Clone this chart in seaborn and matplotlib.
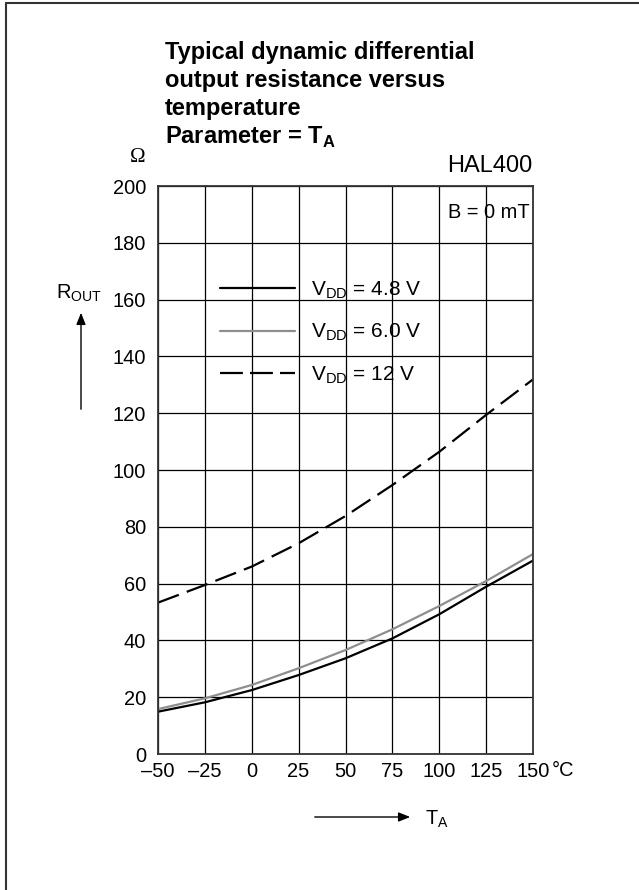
import numpy as np
import pandas as pd
import matplotlib
matplotlib.use("Agg")
import matplotlib.pyplot as plt
import seaborn as sns
from matplotlib.lines import Line2D

# ---- data ----
temps = [-50, -25, 0, 25, 50, 75, 100, 125, 150]
r_48 = [14.9, 18.2, 22.5, 27.8, 33.7, 40.7, 49.2, 58.9, 68.1]
r_60 = [15.8, 19.6, 24.3, 30.2, 36.6, 43.9, 52.1, 60.9, 70.4]
r_12 = [53.3, 59.5, 66.0, 74.2, 83.8, 94.7, 106.4, 119.4, 131.9]
series_labels = [r"V$_{\mathrm{DD}}$ = 4.8 V", r"V$_{\mathrm{DD}}$ = 6.0 V", r"V$_{\mathrm{DD}}$ = 12 V"]
x_ticks = [-50, -25, 0, 25, 50, 75, 100, 125, 150]
x_ticklabels = ["\u201350", "\u201325", "0", "25", "50", "75", "100", "125", "150"]
y_ticks = [0, 20, 40, 60, 80, 100, 120, 140, 160, 180, 200]

df = pd.DataFrame({
    "T": temps * 3,
    "R": r_48 + r_60 + r_12,
    "series": [series_labels[0]] * 9 + [series_labels[1]] * 9 + [series_labels[2]] * 9,
})

sns.set_theme(style="white")
plt.rcParams["font.family"] = ["Liberation Sans", "DejaVu Sans"]
plt.rcParams["mathtext.fontset"] = "custom"
plt.rcParams["mathtext.rm"] = "Liberation Sans"
plt.rcParams["mathtext.bf"] = "Liberation Sans:bold"
plt.rcParams["text.color"] = "black"
plt.rcParams["xtick.color"] = "black"
plt.rcParams["ytick.color"] = "black"

W, H = 639, 890
FS = 14.4
fig = plt.figure(figsize=(W / 100, H / 100), dpi=100)
ax = fig.add_axes([158 / W, (H - 754) / H, 375 / W, 568 / H])

colors = {series_labels[0]: "black", series_labels[1]: "#8e8e8e", series_labels[2]: "black"}
sns.lineplot(data=df, x="T", y="R", hue="series", palette=colors, ax=ax,
             linewidth=1.6, legend=False)
ax.lines[2].set_linestyle((0, (10, 3.8)))

ax.set_xlim(-50, 150)
ax.set_ylim(0, 200)
ax.set_xticks(x_ticks)
ax.set_xticklabels(x_ticklabels)
ax.set_yticks(y_ticks)
ax.set_xlabel("")
ax.set_ylabel("")
ax.grid(True, color="black", linewidth=0.9)
ax.tick_params(axis="both", length=0, labelsize=FS, labelcolor="black")
ax.tick_params(axis="x", pad=6)
ax.tick_params(axis="y", pad=8.5)
for sp in ax.spines.values():
    sp.set_color("#333333")
    sp.set_linewidth(1.3)

# legend
handles = [Line2D([], [], color="black", lw=1.6),
           Line2D([], [], color="#8e8e8e", lw=1.6),
           Line2D([], [], color="black", lw=1.6, linestyle=(0, (10.3, 3.2)))]
leg = ax.legend(handles, series_labels, loc="upper left",
                bbox_to_anchor=((220 - 158) / 375, (754 - 279) / 568),
                frameon=True, fontsize=15, handlelength=3.6, handletextpad=0.75,
                labelspacing=1.02, borderpad=0, borderaxespad=0)
leg.get_frame().set_alpha(0)
leg.get_frame().set_linewidth(0)
for t in leg.get_texts():
    t.set_color("black")

# texts
def fp(x, y):
    return (x / W, 1 - y / H)

title_lines = ["Typical dynamic differential", "output resistance versus",
               "temperature", r"Parameter = T$_{\mathbf{A}}$"]
for i, t in enumerate(title_lines):
    fig.text(*fp(165, 58.5 + i * 28.3), t, fontsize=17, fontweight="bold",
             ha="left", va="baseline")

fig.text(*fp(137.5, 162), "\u03a9", fontsize=15, ha="center", va="baseline",
         family=["Liberation Serif", "DejaVu Serif"])
fig.text(*fp(532, 171.7), "HAL400", fontsize=17, ha="right", va="baseline")
fig.text(*fp(530, 213), "B = 0 mT", fontsize=FS, ha="right", va="center")
fig.text(*fp(56, 299), r"R$_{\mathrm{OUT}}$", fontsize=FS, ha="left", va="baseline")
fig.text(*fp(552, 770), "\u00b0C", fontsize=FS, ha="left", va="center")
fig.text(*fp(425, 825), r"T$_{\mathrm{A}}$", fontsize=FS, ha="left", va="baseline")

fig.add_artist(matplotlib.patches.FancyArrowPatch(
    fp(81, 412), fp(81, 310), transform=fig.transFigure,
    arrowstyle="-|>,head_length=7,head_width=2.8", color="black", lw=1.0))
fig.add_artist(matplotlib.patches.FancyArrowPatch(
    fp(312, 817), fp(413, 817), transform=fig.transFigure,
    arrowstyle="-|>,head_length=7,head_width=2.8", color="black", lw=1.0))

# page frame (top and left edges)
fig.add_artist(Line2D([5.5 / W, 5.5 / W], [0, 1 - 3.3 / H], transform=fig.transFigure,
                      color="#333333", lw=1.5))
fig.add_artist(Line2D([5.5 / W, 1], [1 - 3.3 / H, 1 - 3.3 / H], transform=fig.transFigure,
                      color="#333333", lw=1.5))

fig.savefig("out.png", dpi=100)
